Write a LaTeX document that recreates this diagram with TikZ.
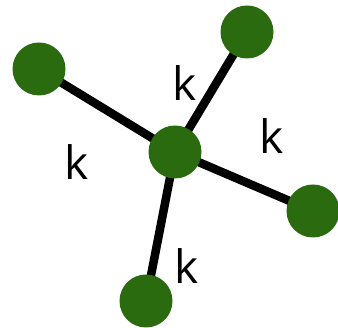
\documentclass[tikz,border=0pt]{standalone}
\usepackage{fontspec}
\setsansfont{Open Sans}
\usepackage{tikz}
\usetikzlibrary{positioning, calc, backgrounds}

\definecolor{leafgreen}{HTML}{2A6B10}

\begin{document}
\begin{tikzpicture}[
    x=1pt, y=-1pt,
    ball/.style={circle, fill=leafgreen, inner sep=0pt, minimum size=53pt},
    bond/.style={line width=8.5pt, black},
    klabel/.style={font=\sffamily\fontsize{46}{46}\selectfont, inner sep=0pt},
]
    \useasboundingbox (0,0) rectangle (338,328);

    \node[ball] (center) at (175,152) {};
    \node[ball] (n1)     at (247,32)  {};
    \node[ball] (n2)     at (39,69)   {};
    \node[ball] (n3)     at (313,211) {};
    \node[ball] (n4)     at (146,301) {};

    % bonds go behind the balls
    \begin{scope}[on background layer]
        \draw[bond] (center.center) -- (n1.center);
        \draw[bond] (center.center) -- (n2.center);
        \draw[bond] (center.center) -- (n3.center);
        \draw[bond] (center.center) -- (n4.center);
    \end{scope}

    \node[klabel] (k1) at (185,83)  {k};
    \node[klabel] (k2) at (77,162)  {k};
    \node[klabel] (k3) at (272,136) {k};
    \node[klabel] (k4) at (187,266) {k};

\end{tikzpicture}
\end{document}
